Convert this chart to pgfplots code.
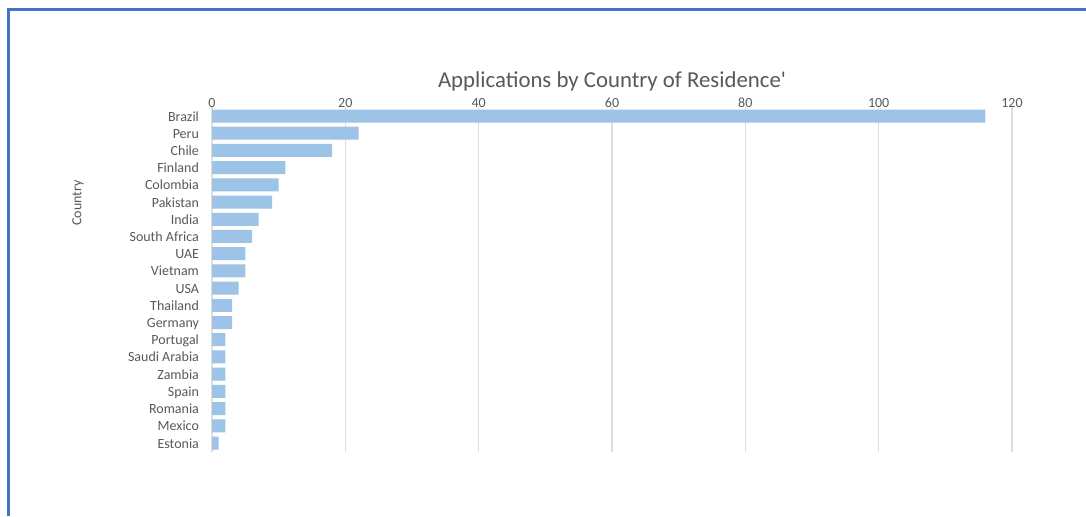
\documentclass[border=0pt]{standalone}
\usepackage{pgfplots}
\pgfplotsset{compat=1.18}
\usepackage{fontspec}
\setmainfont{Carlito}
\definecolor{barblue}{RGB}{157,195,230}
\definecolor{txtgray}{RGB}{89,89,89}
\definecolor{gridgray}{RGB}{222,222,222}
\definecolor{frameblue}{RGB}{68,114,196}
\begin{document}
\begin{tikzpicture}[x=1pt,y=1pt]
\useasboundingbox (0,0) rectangle (543,258);
\fill[white] (0,0) rectangle (543,258);
\draw[frameblue, line width=1.5pt] (4,0) -- (4,253.5) -- (543,253.5);
\begin{axis}[
  at={(106pt,204.3pt)}, anchor=north west,
  scale only axis, width=400pt, height=172.1pt,
  xbar, bar width=6.5pt,
  xmin=0, xmax=120, ymin=-0.5, ymax=19.5, y dir=reverse,
  xtick={0,20,...,120}, xticklabel pos=top,
  ytick={0,...,19},
  yticklabels={Brazil,Peru,Chile,Finland,Colombia,Pakistan,India,South Africa,UAE,Vietnam,USA,Thailand,Germany,Portugal,Saudi Arabia,Zambia,Spain,Romania,Mexico,Estonia},
  separate axis lines,
  x axis line style={draw=none},
  y axis line style={draw=gridgray, line width=0.6pt},
  xmajorgrids, grid style={draw=gridgray, line width=0.6pt},
  major tick length=0pt,
  typeset ticklabels with strut,
  tick label style={font=\fontsize{7}{8}\selectfont, text=txtgray},
  xticklabel style={yshift=-6pt},
  yticklabel style={xshift=-3pt, yshift=-0.9pt},
  /pgf/number format/assume math mode=true,
]
\addplot[fill=barblue, draw=none] coordinates {
(116,0) (22,1) (18,2) (11,3) (10,4) (9,5) (7,6) (6,7) (5,8) (5,9)
(4,10) (3,11) (3,12) (2,13) (2,14) (2,15) (2,16) (2,17) (2,18) (1,19)};
\end{axis}
\node[font=\fontsize{11.4}{13}\selectfont, text=txtgray] at (306,217.5) {Applications by Country of Residence\textquotesingle};
\node[font=\fontsize{7}{8}\selectfont, text=txtgray, rotate=90] at (39,156.5) {Country};
\end{tikzpicture}
\end{document}
